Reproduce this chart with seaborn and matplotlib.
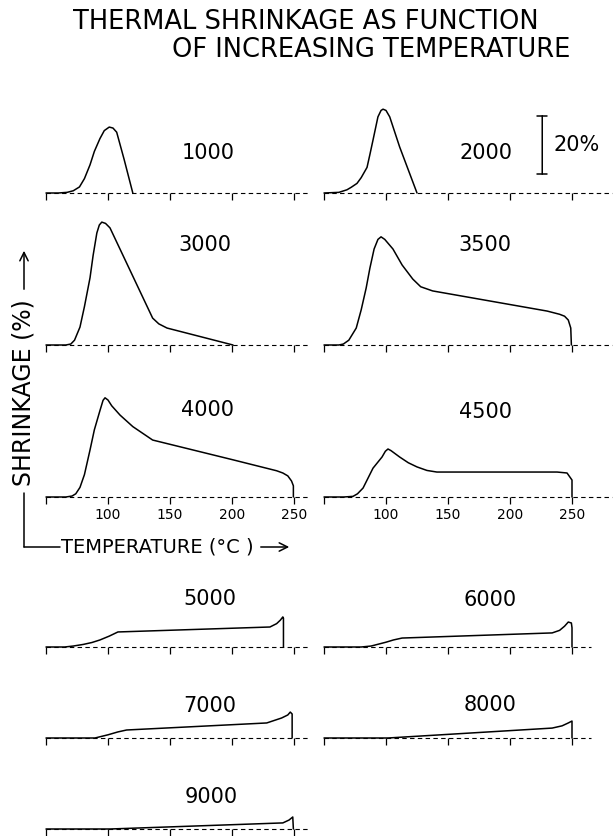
import pandas as pd
import matplotlib.pyplot as plt
import seaborn as sns

sns.set_theme(style="white")
plt.rcParams['font.family'] = ['DejaVu Sans']
plt.rcParams['text.color'] = 'black'

# shrinkage curves (temperature in deg C, shrinkage in %)
t1000 = [50, 60, 67, 72, 77, 81, 85.5, 89, 93.5, 97, 101, 104, 107, 113, 120]
s1000 = [0, 0, 0.2, 0.7, 1.9, 4.5, 8.8, 13, 17, 19.5, 20.6, 20.3, 19, 10.5, 0]

t2000 = [50, 62, 68.5, 72, 76.6, 80, 84.7, 87, 89.5, 93.5, 96, 97.6, 100, 103, 111, 125]
s2000 = [0, 0.2, 1, 1.8, 3, 4.8, 8, 12, 16.5, 23.8, 25.8, 26.2, 25.8, 23.8, 14.4, 0]

t3000 = [50, 66, 70, 73, 77.4, 81, 85.5, 88, 91, 93, 95, 98, 101.6, 118.8, 136, 141, 147.6, 200.8]
s3000 = [0, 0, 0.3, 1.5, 5.6, 12, 21, 28, 35, 37.5, 38.4, 38, 36.6, 22.5, 8.4, 6.6, 5.3, 0]

t3500 = [50, 62, 65.6, 70, 76, 80, 84, 87, 90.4, 93.5, 96, 99, 105.6, 113, 121.6, 128, 137.6,
         230, 240, 244, 247, 249, 249.5]
s3500 = [0, 0, 0.3, 1.5, 5.3, 11, 17.8, 24, 30, 33, 33.8, 33, 30, 25, 20.6, 18.2, 16.9,
         10.6, 9.6, 9, 7.8, 5.3, 0]

t4000 = [50, 66, 71, 74, 77.4, 81, 85.5, 89, 93.5, 96, 97.6, 100, 103, 109.7, 120, 136, 201, 236, 241, 245, 248, 249.5, 249.5]
s4000 = [0, 0, 0.3, 1, 3, 7, 14.7, 21, 27, 30.2, 31, 30.3, 28.5, 25.6, 22, 17.8, 11.6, 8.2, 7.5, 6.6, 5, 3.5, 0]

t4500 = [50, 66, 73.4, 77, 81.5, 89.5, 96.8, 99.5, 101.6, 104, 111, 118, 125, 133, 141, 238, 246, 250, 250]
s4500 = [0, 0, 0.2, 1, 2.8, 9, 12.5, 14.3, 15, 14.5, 12.5, 10.7, 9.4, 8.3, 7.8, 7.8, 7.5, 5.3, 0]

t5000 = [50, 65, 72, 80, 87, 93.5, 101, 108, 230.6, 236, 239, 241, 241.5, 241.5]
s5000 = [0, 0, 0.3, 0.8, 1.4, 2.2, 3.4, 4.7, 6.25, 7.3, 8.4, 9.4, 9, 0]

t6000 = [50, 80, 88, 95, 100, 106, 113, 234, 240, 244, 247, 249.5, 250, 250]
s6000 = [0, 0, 0.3, 1, 1.5, 2.2, 2.8, 4.4, 5.2, 6.5, 7.8, 7.5, 6, 0]

t7000 = [50, 89.5, 100, 108, 115, 228, 240, 245, 247, 248.5, 248.5]
s7000 = [0, 0, 1, 1.9, 2.5, 4.7, 6.25, 7.2, 8.1, 7.5, 0]

t8000 = [50, 101.6, 234, 242, 247, 250, 250]
s8000 = [0, 0, 3.1, 3.8, 4.7, 5.3, 0]

t9000 = [50, 101.6, 241, 246, 249, 249.5]
s9000 = [0, 0, 1.9, 2.8, 3.75, 0]

tick_temps = [50, 100, 150, 200, 250]
tick_labels = ["", "100", "150", "200", "250"]
scale_pct = 20

W, H = 615, 836
PX_PER_PCT = 3.2
PX_PER_DEG = 1.24
YMAX = 42

fig = plt.figure(figsize=(W / 100, H / 100), dpi=100)


def make_ax(left_px, base_px, tmax, labels=False):
    width = (tmax - 50) * PX_PER_DEG
    height = YMAX * PX_PER_PCT
    ax = fig.add_axes([left_px / W, (H - base_px) / H, width / W, height / H])
    ax.set_xlim(50, tmax)
    ax.set_ylim(0, YMAX)
    ax.patch.set_alpha(0)
    for sp in ax.spines.values():
        sp.set_visible(False)
    ax.set_yticks([])
    ax.set_xticks(tick_temps)
    ax.set_xticklabels(tick_labels if labels else [""] * len(tick_temps), fontsize=10)
    ax.tick_params(axis="x", bottom=True, direction="out", length=5, width=0.9,
                   colors="black", pad=3)
    ax.axhline(0, ls=(0, (4, 3)), lw=0.8, color="black", clip_on=False)
    return ax


def draw(ax, t, s):
    df = pd.DataFrame({"temp": t, "shrink": s})
    sns.lineplot(data=df, x="temp", y="shrink", ax=ax, sort=False, estimator=None,
                 color="black", lw=1.1)
    for ln in ax.lines:
        ln.set_clip_on(False)
    ax.set_xlabel("")
    ax.set_ylabel("")


LEFT, RIGHT = 46, 324
panels = [
    ("1000", t1000, s1000, LEFT, 193, 263, False, (208, 153)),
    ("2000", t2000, s2000, RIGHT, 193, 282, False, (486, 153)),
    ("3000", t3000, s3000, LEFT, 345, 263, False, (205, 245)),
    ("3500", t3500, s3500, RIGHT, 345, 282, False, (485, 245)),
    ("4000", t4000, s4000, LEFT, 497, 263, True, (207, 410)),
    ("4500", t4500, s4500, RIGHT, 497, 282, True, (486, 412)),
    ("5000", t5000, s5000, LEFT, 647, 263, False, (210, 599)),
    ("6000", t6000, s6000, RIGHT, 647, 265, False, (490, 600)),
    ("7000", t7000, s7000, LEFT, 738, 263, False, (210, 706)),
    ("8000", t8000, s8000, RIGHT, 738, 265, False, (490, 705)),
    ("9000", t9000, s9000, LEFT, 829, 263, False, (211, 797)),
]

axes = {}
for name, t, s, left, base, tmax, labels, (lx, ly) in panels:
    ax = make_ax(left, base, tmax, labels)
    draw(ax, t, s)
    axes[name] = ax
    fig.text(lx / W, 1 - ly / H, name, ha="center", va="center", fontsize=15)

# 20 % scale bar next to the 2000 curve
ax = axes["2000"]
ax.annotate("", xy=(226, 5), xytext=(226, 5 + scale_pct), annotation_clip=False,
            arrowprops=dict(arrowstyle="|-|,widthA=0.3,widthB=0.3", lw=1.1, color="black"))
ax.text(235, 5 + scale_pct / 2, "20%", ha="left", va="center", fontsize=15)

# title
fig.text(73 / W, 1 - 22 / H, "THERMAL SHRINKAGE AS FUNCTION", ha="left", va="center", fontsize=18.5)
fig.text(172 / W, 1 - 50 / H, "OF INCREASING TEMPERATURE", ha="left", va="center", fontsize=18.5)

# axis captions drawn as an L shape
fig.text(24 / W, 1 - 393 / H, "SHRINKAGE (%)", rotation=90, ha="center", va="center", fontsize=17)
fig.add_artist(plt.Line2D([24 / W, 24 / W], [1 - 493 / H, 1 - 547 / H], color="black", lw=1.1))
fig.add_artist(plt.Line2D([24 / W, 60 / W], [1 - 547 / H, 1 - 547 / H], color="black", lw=1.1))
fig.text(61 / W, 1 - 547 / H, "TEMPERATURE (°C )", ha="left", va="center", fontsize=14)
fig.add_artist(plt.matplotlib.patches.FancyArrowPatch(
    (24 / W, 1 - 292 / H), (24 / W, 1 - 248 / H), transform=fig.transFigure,
    arrowstyle="->,head_length=6,head_width=3", lw=1.1, color="black"))
fig.add_artist(plt.matplotlib.patches.FancyArrowPatch(
    (258 / W, 1 - 547 / H), (292 / W, 1 - 547 / H), transform=fig.transFigure,
    arrowstyle="->,head_length=6,head_width=3", lw=1.1, color="black"))

fig.savefig("out.png", dpi=100)
